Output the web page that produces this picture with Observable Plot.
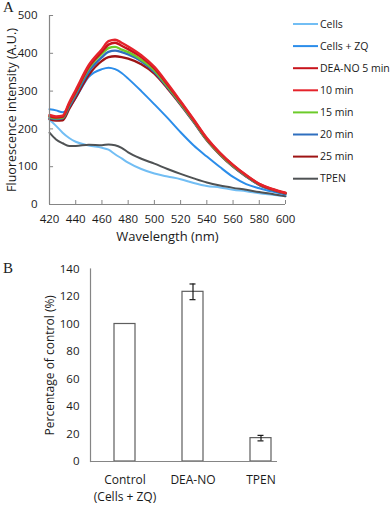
<!DOCTYPE html>
<html>
<head>
<meta charset="utf-8">
<script src="https://cdn.jsdelivr.net/npm/d3@7"></script>
<script src="https://cdn.jsdelivr.net/npm/@observablehq/plot@0.6"></script>
<style>
  body { margin: 0; background: #fff; width: 392px; height: 505px; position: relative; overflow: hidden; }
  .panel { position: absolute; left: 0; }
  .plabel { position: absolute; font-family: "Liberation Serif", serif; font-size: 15px; color: #222; }
  svg { display: block; }
</style>
</head>
<body>
<div id="a" class="panel" style="top:0"></div>
<div id="b" class="panel" style="top:255px"></div>
<div class="plabel" style="left:3px; top:-1px;">A</div>
<div class="plabel" style="left:3px; top:260px;">B</div>
<script>
// ---------- Panel A data ----------
const wavelengths = [420,425,430,435,440,450,460,465,470,475,480,490,500,510,520,530,540,550,560,570,580,590,600];
const cells      = [224,208,190,176,166,156,150,145,133,122,111, 94, 82, 74, 67, 57, 49, 45, 39, 35, 30, 26, 22];
const cellsZQ    = [252,249,244,256,282,338,358,362,358,348,333,300,265,229,191,156,127, 99, 73, 54, 43, 34, 26];
const deaNO5     = [234,230,232,266,298,364,404,423,428,420,411,390,360,317,271,223,174,136,104, 77, 54, 40, 30];
const min10      = [237,233,235,270,303,369,411,432,436,428,418,395,364,320,273,225,176,137,105, 78, 55, 41, 31];
const min15      = [232,228,230,264,296,360,399,414,417,410,403,383,355,313,268,221,172,134,102, 76, 53, 40, 30];
const min20      = [229,226,228,259,290,352,390,404,407,403,397,379,351,310,266,219,171,133,101, 75, 52, 39, 29];
const min25      = [226,222,223,253,283,343,380,390,392,390,386,371,346,307,264,218,170,132,100, 74, 52, 39, 29];
const tpen       = [190,172,162,155,155,158,157,159,157,150,138,121,108, 94, 81, 69, 58, 50, 44, 39, 33, 28, 22];

const seriesNames  = ["Cells", "Cells + ZQ", "DEA-NO 5 min", "10 min", "15 min", "20 min", "25 min", "TPEN"];
const seriesValues = [cells, cellsZQ, deaNO5, min10, min15, min20, min25, tpen];
const seriesColors = ["#72BEF4", "#2B8DEA", "#C8141C", "#E5232B", "#6CCB2A", "#2F6FBF", "#9E1414", "#4F5254"];
const drawOrder    = ["Cells", "TPEN", "Cells + ZQ", "25 min", "20 min", "15 min", "DEA-NO 5 min", "10 min"];

const xTicksA = [420,440,460,480,500,520,540,560,580,600];
const yTicksA = [0,100,200,300,400,500];
const xLabelA = "Wavelength (nm)";
const yLabelA = "Fluorescence intensity (A.U.)";

// ---------- Panel B data ----------
const groups   = ["Control", "DEA-NO", "TPEN"];
const groupTickText = ["Control\n(Cells + ZQ)", "DEA-NO", "TPEN"];
const percents = [100, 123.4, 17];
const errors   = [0, 5.7, 2];
const yTicksB  = [0,20,40,60,80,100,120,140];
const yLabelB  = "Percentage of control (%)";

// ---------- build tables ----------
const rowsA = [];
drawOrder.forEach(name => {
  const i = seriesNames.indexOf(name);
  seriesValues[i].forEach((v, j) => rowsA.push({series: name, wl: wavelengths[j], v}));
});
const rowsB = groups.map((g, i) => ({group: g, value: percents[i], err: errors[i]}));
const errRows = rowsB.filter(d => d.err > 0);

const font = "'Open Sans', sans-serif";
const axisGray = "#858585";

// ---------- Panel A ----------
const plotA = Plot.plot({
  width: 392, height: 255,
  marginLeft: 49, marginRight: 107, marginTop: 15, marginBottom: 51,
  style: {fontFamily: font, fontSize: "11px", color: "#1a1a1a", background: "transparent"},
  x: {domain: [420, 600], label: null},
  y: {domain: [0, 500], label: null},
  color: {domain: seriesNames, range: seriesColors},
  marks: [
    Plot.lineY(rowsA, {x: "wl", y: "v", z: "series", stroke: "series", curve: "monotone-x",
      strokeWidth: d => (d.series.includes("min") ? 2.4 : 2)}),
    Plot.ruleX([420], {stroke: axisGray, strokeWidth: 1.2}),
    Plot.ruleY([0], {stroke: axisGray, strokeWidth: 1.2}),
    Plot.ruleY(yTicksA, {y: d => d, x1: 420, x2: 423.1, stroke: axisGray}),
    Plot.ruleX(xTicksA, {x: d => d, y1: 0, y2: 10.6, stroke: axisGray}),
    Plot.axisX({ticks: xTicksA, tickSize: 0, tickPadding: 10, tickFormat: d => String(d), fontSize: 11.5}),
    Plot.axisY({ticks: yTicksA, tickSize: 0, tickPadding: 12, tickFormat: d => String(d), fontSize: 11.5}),
    Plot.text([xLabelA], {frameAnchor: "bottom", dy: 36, text: d => d, fontSize: 13, fill: "#1a1a1a"}),
    Plot.text([yLabelA], {frameAnchor: "left", textAnchor: "middle", rotate: -90, dx: -38, text: d => d, fontSize: 12.5, fill: "#1a1a1a"})
  ]
});
document.getElementById("a").appendChild(plotA);

// legend
const leg = d3.select(plotA).append("g").attr("font-family", font).attr("font-size", 10.5)
  .attr("fill", "#1a1a1a").attr("text-anchor", "start");
seriesNames.forEach((name, i) => {
  const y = 24 + i * 22.1;
  leg.append("line").attr("x1", 293).attr("x2", 318).attr("y1", y).attr("y2", y)
    .attr("stroke", seriesColors[i]).attr("stroke-width", 2);
  leg.append("text").attr("x", 320).attr("y", y).attr("dy", "0.35em").attr("text-anchor", "start").text(name);
});

// ---------- Panel B ----------
const plotB = Plot.plot({
  width: 392, height: 250,
  marginLeft: 90, marginRight: 115, marginTop: 13.5, marginBottom: 44,
  style: {fontFamily: font, fontSize: "11.5px", color: "#1a1a1a", background: "transparent"},
  x: {type: "band", domain: groups, range: [90, 295.5], paddingInner: 0.693, paddingOuter: 0.3465, align: 0.5, label: null},
  y: {domain: [0, 140], label: null},
  marks: [
    Plot.barY(rowsB, {x: "group", y: "value", fill: "white", stroke: "#5e5e5e", strokeWidth: 1.2}),
    Plot.ruleX(errRows, {x: "group", y1: d => d.value - d.err, y2: d => d.value + d.err, stroke: "#1a1a1a", strokeWidth: 1.2}),
    Plot.tickY(errRows, {x: "group", y: d => d.value + d.err, inset: 7.5, stroke: "#1a1a1a", strokeWidth: 1.2}),
    Plot.tickY(errRows, {x: "group", y: d => d.value - d.err, inset: 7.5, stroke: "#1a1a1a", strokeWidth: 1.2}),
    Plot.ruleY([0], {stroke: axisGray, strokeWidth: 1.2}),
    Plot.frame({anchor: "left", stroke: axisGray, strokeWidth: 1.2}),
    Plot.axisY({ticks: yTicksB, tickSize: 0, tickPadding: 11, tickFormat: d => String(d)}),
    Plot.axisX({tickSize: 0, tickPadding: 11, fontSize: 12, lineHeight: 1.4,
      tickFormat: d => groupTickText[groups.indexOf(d)]}),
    Plot.text([yLabelB], {frameAnchor: "left", textAnchor: "middle", rotate: -90, dx: -40, text: d => d, fontSize: 12, fill: "#1a1a1a"})
  ]
});
document.getElementById("b").appendChild(plotB);
</script>
</body>
</html>
